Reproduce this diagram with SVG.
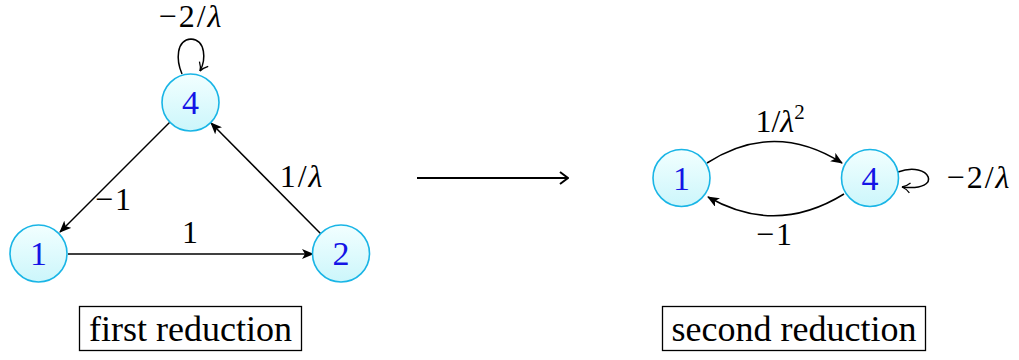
<svg xmlns="http://www.w3.org/2000/svg" width="1019" height="360" viewBox="0 0 1019 360">
<defs>
<linearGradient id="g" x1="0" y1="0" x2="0" y2="1">
<stop offset="0" stop-color="#f2ffff"/>
<stop offset="1" stop-color="#ccf6fb"/>
</linearGradient>
<marker id="a" viewBox="0 0 12 10" refX="11" refY="5" markerWidth="12" markerHeight="10" markerUnits="userSpaceOnUse" orient="auto">
<path d="M0,0 L12,5 L0,10 L3,5 Z" fill="#000"/>
</marker>
<marker id="o" viewBox="0 0 10 12" refX="9" refY="6" markerWidth="10" markerHeight="12" markerUnits="userSpaceOnUse" orient="auto">
<path d="M1,1 Q5,5 9,6 Q5,7 1,11" fill="none" stroke="#000" stroke-width="1.3"/>
</marker>
<marker id="b" viewBox="0 0 10 14" refX="9" refY="7" markerWidth="10" markerHeight="14" markerUnits="userSpaceOnUse" orient="auto">
<path d="M1,1 L9,7 L1,13" fill="none" stroke="#000" stroke-width="2"/>
</marker>
</defs>
<style>
.n circle{fill:url(#g);stroke:#19b5e6;stroke-width:1.6}
.n text{fill:#1414e6;font-family:"Liberation Serif",serif;font-size:34px;text-anchor:middle}
.e{fill:none;stroke:#000;stroke-width:1.5}
.l{font-family:"Liberation Serif",serif;font-size:32px;fill:#000;text-anchor:middle}
.w{letter-spacing:2px}
.box rect{fill:#fff;stroke:#000;stroke-width:1.3}
.box text{font-family:"Liberation Serif",serif;font-size:36px;fill:#000;text-anchor:middle}
</style>
<g id="connectors">
<path class="e" d="M182,74 C176,60 176,40 191,39 C206,40 206,60 200,71" marker-end="url(#o)"/>
<line class="e" x1="170" y1="122" x2="60" y2="232" marker-end="url(#a)"/>
<line class="e" x1="321" y1="234" x2="211" y2="123" marker-end="url(#a)"/>
<line class="e" x1="68" y1="254" x2="313" y2="254" marker-end="url(#a)"/>
<line x1="417" y1="178" x2="568" y2="178" stroke="#000" stroke-width="2" marker-end="url(#b)"/>
<path class="e" d="M707,163 Q774,120 842,163" marker-end="url(#a)"/>
<path class="e" d="M844,194 Q776,236 708,197" marker-end="url(#a)"/>
<path class="e" d="M898,172 C930,160 945,192 902,187" marker-end="url(#o)"/>
</g>
<g id="n4" class="n"><circle cx="190.5" cy="102.5" r="28.5"/><text x="190.5" y="114">4</text></g>
<g id="n1" class="n"><circle cx="38.5" cy="253.5" r="28.5"/><text x="38.5" y="265">1</text></g>
<g id="n2" class="n"><circle cx="341" cy="253.5" r="28.5"/><text x="341" y="265">2</text></g>
<g id="m1" class="n"><circle cx="681.5" cy="178" r="28.5"/><text x="681.5" y="189.5">1</text></g>
<g id="m4" class="n"><circle cx="870" cy="178" r="28.5"/><text x="870" y="189.5">4</text></g>
<g id="labels">
<text class="l w" x="191" y="27">−2/<tspan font-style="italic">λ</tspan></text>
<text class="l w" x="302" y="187">1/<tspan font-style="italic">λ</tspan></text>
<text class="l w" x="114" y="210">−1</text>
<text class="l" x="190" y="243">1</text>
<text class="l" x="780" y="132">1/<tspan font-style="italic">λ</tspan><tspan font-size="21" dy="-13">2</tspan></text>
<text class="l w" x="979" y="188">−2/<tspan font-style="italic">λ</tspan></text>
<text class="l w" x="775" y="245">−1</text>
</g>
<g id="box1" class="box"><rect x="79.5" y="306.5" width="222" height="44"/><text x="190.5" y="341">first reduction</text></g>
<g id="box2" class="box"><rect x="662.5" y="306.5" width="263" height="44"/><text x="794" y="341">second reduction</text></g>
</svg>
